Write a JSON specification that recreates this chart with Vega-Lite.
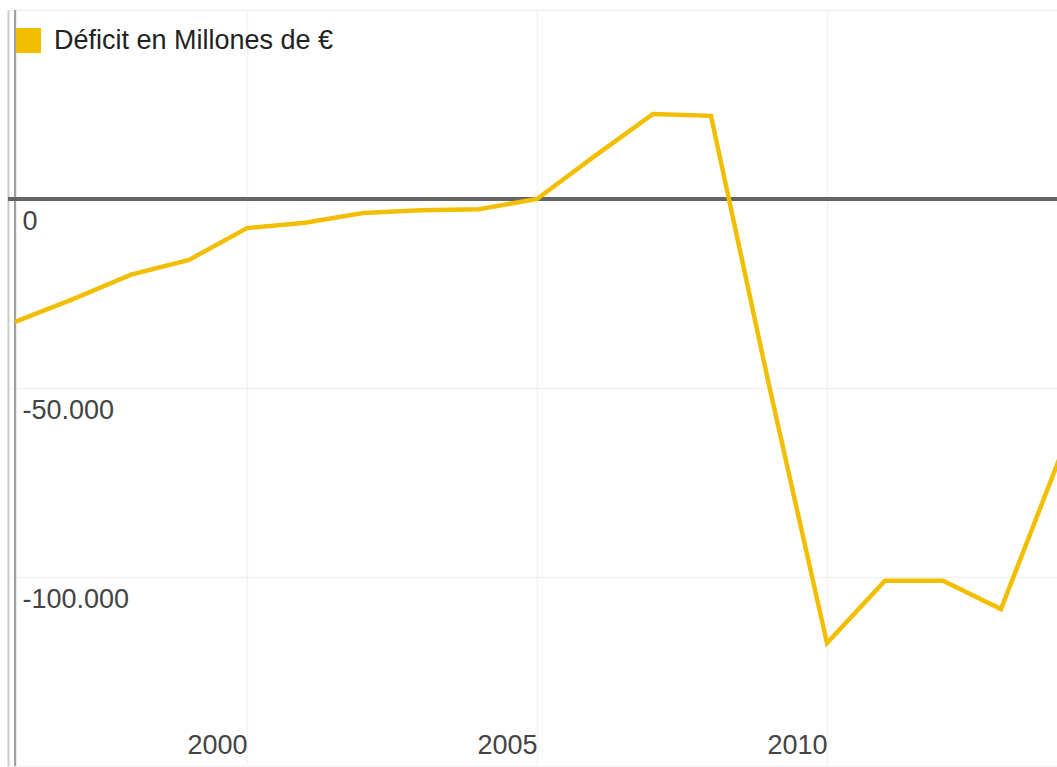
{
  "$schema": "https://vega.github.io/schema/vega-lite/v6.json",
  "autosize": {"type": "none"},
  "width": 1049,
  "height": 756,
  "padding": {"left": 8, "top": 10, "right": 0, "bottom": 1},
  "background": "#ffffff",
  "config": {
    "view": {"stroke": null},
    "font": "Liberation Sans",
    "axis": {"labelFont": "Liberation Sans", "titleFont": "Liberation Sans"},
    "legend": {"labelFont": "Liberation Sans"}
  },
  "data": {
    "values": [
      {"anio": 1996, "deficit": -32500, "serie": "Déficit en Millones de €"},
      {"anio": 1997, "deficit": -26500, "serie": "Déficit en Millones de €"},
      {"anio": 1998, "deficit": -20000, "serie": "Déficit en Millones de €"},
      {"anio": 1999, "deficit": -16100, "serie": "Déficit en Millones de €"},
      {"anio": 2000, "deficit": -7700, "serie": "Déficit en Millones de €"},
      {"anio": 2001, "deficit": -6300, "serie": "Déficit en Millones de €"},
      {"anio": 2002, "deficit": -3700, "serie": "Déficit en Millones de €"},
      {"anio": 2003, "deficit": -3000, "serie": "Déficit en Millones de €"},
      {"anio": 2004, "deficit": -2700, "serie": "Déficit en Millones de €"},
      {"anio": 2005, "deficit": 0, "serie": "Déficit en Millones de €"},
      {"anio": 2006, "deficit": 11400, "serie": "Déficit en Millones de €"},
      {"anio": 2007, "deficit": 22500, "serie": "Déficit en Millones de €"},
      {"anio": 2008, "deficit": 22000, "serie": "Déficit en Millones de €"},
      {"anio": 2009, "deficit": -49200, "serie": "Déficit en Millones de €"},
      {"anio": 2010, "deficit": -117500, "serie": "Déficit en Millones de €"},
      {"anio": 2011, "deficit": -101000, "serie": "Déficit en Millones de €"},
      {"anio": 2012, "deficit": -101000, "serie": "Déficit en Millones de €"},
      {"anio": 2013, "deficit": -108500, "serie": "Déficit en Millones de €"},
      {"anio": 2014, "deficit": -69000, "serie": "Déficit en Millones de €"}
    ]
  },
  "layer": [
    {
      "mark": {"type": "rule", "color": "#a0a0a0", "strokeWidth": 2},
      "encoding": {
        "x": {"datum": 1996, "type": "quantitative"}
      }
    },
    {
      "mark": {"type": "rule", "color": "#666666", "strokeWidth": 2.5},
      "encoding": {
        "y": {"datum": 0, "type": "quantitative"}
      }
    },
    {
      "mark": {"type": "line", "strokeWidth": 4.5, "clip": true},
      "encoding": {
        "x": {
          "field": "anio",
          "type": "quantitative",
          "scale": {"domain": [1995.879, 2013.966], "nice": false, "zero": false},
          "axis": {
            "title": null,
            "orient": "bottom",
            "values": [2000, 2005, 2010],
            "format": "d",
            "grid": true,
            "gridColor": "#f3f3f3",
            "gridWidth": 1.5,
            "ticks": false,
            "domain": false,
            "labelAlign": "right",
            "labelBaseline": "alphabetic",
            "labelPadding": -13,
            "labelDx": -7,
            "labelFontSize": 27,
            "labelColor": "#444444",
            "labelFlush": false,
            "labelOverlap": false
          }
        },
        "y": {
          "field": "deficit",
          "type": "quantitative",
          "scale": {"domain": [-150000, 50000], "nice": false, "zero": false},
          "axis": {
            "title": null,
            "orient": "left",
            "values": [-150000, -100000, -50000, 0, 50000],
            "labelExpr": "datum.value == 0 ? '0' : (datum.value == -50000 ? '-50.000' : (datum.value == -100000 ? '-100.000' : ''))",
            "grid": true,
            "gridColor": "#f1f1f1",
            "gridWidth": 1.5,
            "ticks": false,
            "domain": true,
            "domainColor": "#cccccc",
            "domainWidth": 2,
            "labelAlign": "left",
            "labelBaseline": "alphabetic",
            "labelPadding": -14,
            "labelOffset": 30,
            "labelFontSize": 27,
            "labelColor": "#444444",
            "labelFlush": false,
            "labelOverlap": false
          }
        },
        "color": {
          "field": "serie",
          "type": "nominal",
          "scale": {"range": ["#f2bf00"]},
          "legend": {
            "title": null,
            "orient": "none",
            "legendX": 7,
            "legendY": 17,
            "symbolType": "square",
            "symbolSize": 625,
            "symbolStrokeWidth": 0,
            "labelFontSize": 27,
            "labelColor": "#222222",
            "labelOffset": 12,
            "labelLimit": 600,
            "padding": 0,
            "encode": {
              "symbols": {"update": {"fill": {"value": "#f2bf00"}, "stroke": {"value": "#f2bf00"}, "opacity": {"value": 1}}}
            }
          }
        }
      }
    }
  ]
}
